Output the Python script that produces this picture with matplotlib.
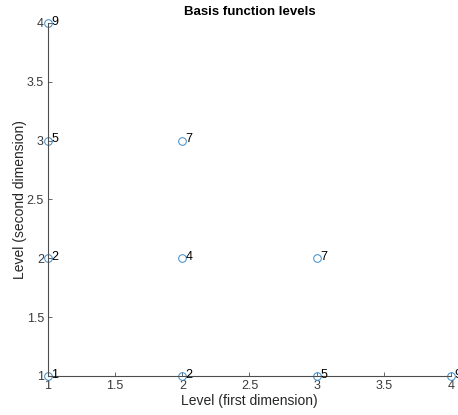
import matplotlib.pyplot as plt

plt.rcParams['font.family'] = ['Liberation Sans', 'DejaVu Sans']

# niveles de las funciones base
x_lvl = [1, 2, 3, 4, 1, 2, 3, 1, 2, 1]
y_lvl = [1, 1, 1, 1, 2, 2, 2, 3, 3, 4]
cuenta = [1, 2, 5, 9, 2, 4, 7, 5, 7, 9]

fig = plt.figure(figsize=(4.58, 4.15), dpi=100)
ax = fig.add_axes([0.1048, 0.094, 0.8799, 0.8506])

ax.plot(x_lvl, y_lvl, 'o', mfc='none', mec='#3a8ac8', ms=5.5, mew=0.7, clip_on=False)
for xi, yi, c in zip(x_lvl, y_lvl, cuenta):
    ax.annotate(str(c), (xi, yi), xytext=(2.5, 1), textcoords='offset points',
                va='center', ha='left', fontsize=9, annotation_clip=False)

ax.set_xlim(1, 4)
ax.set_ylim(1, 4)
ax.set_xticks([1, 1.5, 2, 2.5, 3, 3.5, 4])
ax.set_xticklabels(['1', '1.5', '2', '2.5', '3', '3.5', '4'])
ax.set_yticks([1, 1.5, 2, 2.5, 3, 3.5, 4])
ax.set_yticklabels(['1', '1.5', '2', '2.5', '3', '3.5', '4'])
ax.spines['top'].set_visible(False)
ax.spines['right'].set_visible(False)
for s in ['left', 'bottom']:
    ax.spines[s].set_color('#4d4d4d')
    ax.spines[s].set_linewidth(0.8)
ax.tick_params(direction='in', length=3, width=0.6, colors='#4d4d4d', labelsize=9,
               labelcolor='#3a3a3a', pad=3)
ax.set_xlabel('Level (first dimension)', fontsize=10, color='#262626', labelpad=1)
ax.set_ylabel('Level (second dimension)', fontsize=10, color='#262626', labelpad=0)
ax.set_title('Basis function levels', fontsize=9.5, fontweight='bold', pad=6)

plt.savefig('out.png', dpi=100)
